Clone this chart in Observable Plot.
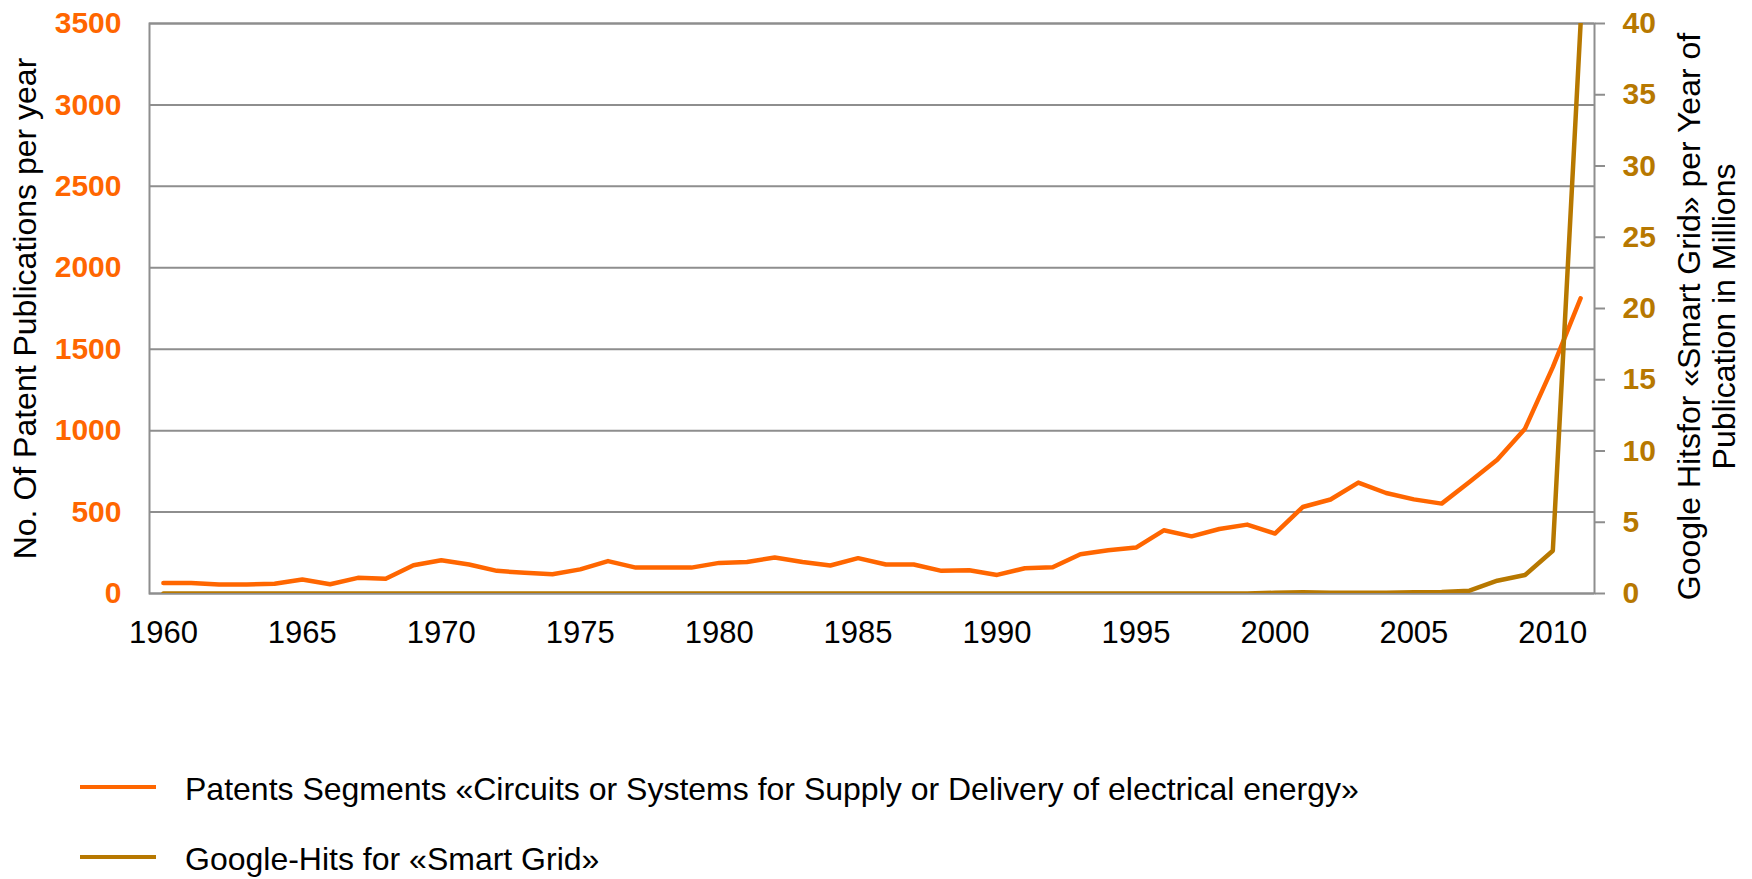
<!DOCTYPE html>
<html>
<head>
<meta charset="utf-8">
<script src="https://cdn.jsdelivr.net/npm/d3@7"></script>
<script src="https://cdn.jsdelivr.net/npm/@observablehq/plot@0.6"></script>
<style>
  html, body { margin: 0; padding: 0; background: #fff; }
  #wrap { position: relative; width: 1752px; height: 879px; font-family: "Liberation Sans", Arial, sans-serif; }
  #plot { position: absolute; left: 0; top: 0; }
  .leg-line { position: absolute; left: 80px; width: 76px; height: 4px; }
  .leg-text { position: absolute; left: 185px; font-size: 32px; color: #000; white-space: nowrap; line-height: 36px; }
</style>
</head>
<body>
<div id="wrap"><div id="plot"></div></div>
<script>
// ---- data ----
const years = [1960,1961,1962,1963,1964,1965,1966,1967,1968,1969,
               1970,1971,1972,1973,1974,1975,1976,1977,1978,1979,
               1980,1981,1982,1983,1984,1985,1986,1987,1988,1989,
               1990,1991,1992,1993,1994,1995,1996,1997,1998,1999,
               2000,2001,2002,2003,2004,2005,2006,2007,2008,2009,
               2010,2011];
const patents = [65,64,55,55,60,86,57,96,90,174,
                 204,178,139,127,118,148,199,159,159,159,
                 188,194,221,194,172,217,178,178,139,143,
                 114,155,161,241,266,282,388,351,396,423,
                 368,531,577,681,617,578,552,685,822,1012,
                 1390,1813];
const googleHits = [0,0,0,0,0,0,0,0,0,0,
                    0,0,0,0,0,0,0,0,0,0,
                    0,0,0,0,0,0,0,0,0,0,
                    0,0,0,0,0,0,0,0,0,0,
                    0.05,0.08,0.05,0.05,0.05,0.08,0.1,0.2,0.9,1.3,
                    3.0,40];
const xTicks = [1960,1965,1970,1975,1980,1985,1990,1995,2000,2005,2010];
const leftTicks = [0,500,1000,1500,2000,2500,3000,3500];
const rightTicks = [0,5,10,15,20,25,30,35,40];
const seriesNames = ["Patents Segments «Circuits or Systems for Supply or Delivery of electrical energy»",
                     "Google-Hits for «Smart Grid»"];
const leftTitle = "No. Of Patent Publications per year";
const rightTitle = "Google Hitsfor «Smart Grid» per Year of\nPublication in Millions";

// ---- styling ----
const ORANGE = "#ff6600";
const GOLD = "#b77800";
const GRAY = "#8e8e8e";
const leftMax = 3500, rightMax = 40;
const k = leftMax / rightMax;

const data = years.map((y, i) => ({year: y, patents: patents[i], google: googleHits[i]}));

const chart = Plot.plot({
  width: 1752,
  height: 660,
  marginLeft: 149,
  marginRight: 158,
  marginTop: 23,
  marginBottom: 67,
  style: {fontFamily: "'Liberation Sans', Arial, sans-serif", background: "#fff", overflow: "visible"},
  x: {domain: [1959.5, 2011.5]},
  y: {domain: [0, leftMax]},
  marks: [
    Plot.gridY(leftTicks, {stroke: GRAY, strokeOpacity: 1, strokeWidth: 2}),
    Plot.frame({stroke: GRAY, strokeWidth: 2}),
    Plot.axisX({ticks: xTicks, tickSize: 0, tickPadding: 27, tickFormat: d => String(d),
                fontSize: 31, fill: "#000", label: null}),
    Plot.axisY({anchor: "left", ticks: leftTicks, tickSize: 0, tickPadding: 28, tickFormat: d => String(d),
                fill: ORANGE, fontWeight: "bold", fontSize: 30, label: null}),
    Plot.axisY({anchor: "right", ticks: rightTicks.map(v => v * k), tickFormat: d => String(Math.round(d / k)),
                tickSize: 10, tickPadding: 18, stroke: GRAY, strokeWidth: 2,
                fill: GOLD, fontWeight: "bold", fontSize: 30, label: null}),
    Plot.lineY(data, {x: "year", y: "patents", stroke: ORANGE, strokeWidth: 4.5, strokeLinejoin: "round"}),
    Plot.lineY(data, {x: "year", y: d => d.google * k, stroke: GOLD, strokeWidth: 4.5, strokeLinejoin: "round", clip: true}),
    Plot.text([leftTitle], {frameAnchor: "left", dx: -124, rotate: -90, textAnchor: "middle", lineAnchor: "middle",
                text: d => d, fontSize: 32, fill: "#000"}),
    Plot.text([rightTitle], {frameAnchor: "right", dx: 112, dy: 8, rotate: -90, textAnchor: "middle", lineAnchor: "middle",
                text: d => d, fontSize: 32, fill: "#000", lineHeight: 1.08})
  ]
});
document.getElementById("plot").appendChild(chart);

// ---- legend ----
const wrap = document.getElementById("wrap");
const legColors = [ORANGE, GOLD];
const legLineY = [784.7, 854.7];
const legTextTop = [771, 841];
seriesNames.forEach((name, i) => {
  const ln = document.createElement("div");
  ln.className = "leg-line";
  ln.style.top = legLineY[i] + "px";
  ln.style.background = legColors[i];
  wrap.appendChild(ln);
  const tx = document.createElement("div");
  tx.className = "leg-text";
  tx.style.top = legTextTop[i] + "px";
  tx.textContent = name;
  wrap.appendChild(tx);
});
</script>
</body>
</html>
